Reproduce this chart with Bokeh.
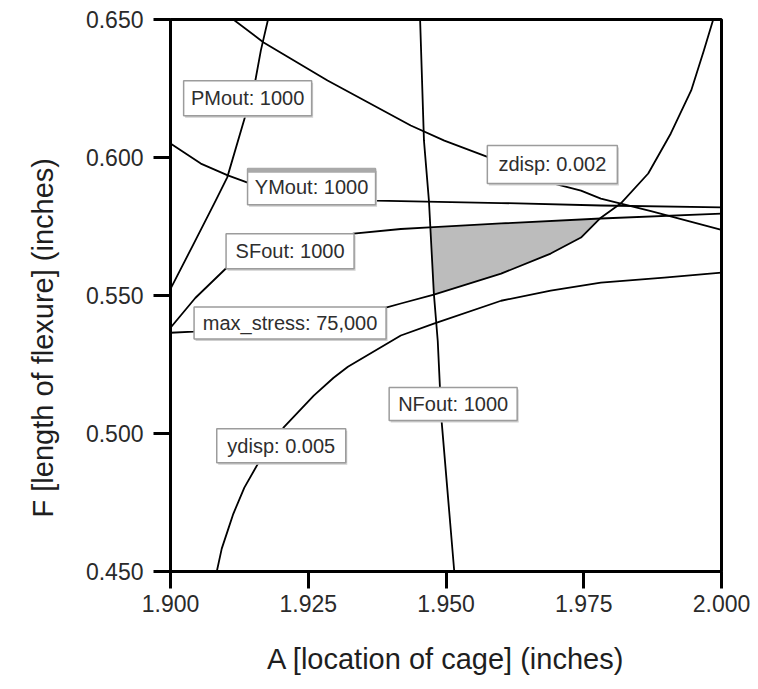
import numpy as np
from bokeh.plotting import figure
from bokeh.models import FixedTicker, Range1d, Title
from bokeh.core.properties import value
from bokeh.embed import file_html
from bokeh.resources import INLINE

# Constraint contours: F (length of flexure) versus A (location of cage), inches
pmout_A = [1.9000, 1.9042, 1.9082, 1.9103, 1.9136, 1.9154, 1.9164, 1.9177]
pmout_F = [0.5524, 0.5687, 0.5844, 0.5928, 0.6152, 0.6279, 0.6388, 0.6500]

zdisp_A = [1.9114, 1.9169, 1.9285, 1.9436, 1.9497, 1.9574, 1.9694, 1.9745, 1.9781, 1.9872, 2.0000]
zdisp_F = [0.6500, 0.6417, 0.6279, 0.6116, 0.6061, 0.6003, 0.5906, 0.5880, 0.5851, 0.5806, 0.5738]

ymout_A = [1.9000, 1.9055, 1.9104, 1.9140, 1.9372, 1.9418, 1.9600, 1.9781, 2.0000]
ymout_F = [0.6051, 0.5978, 0.5935, 0.5909, 0.5844, 0.5842, 0.5835, 0.5826, 0.5819]

sfout_A = [1.9000, 1.9045, 1.9100, 1.9332, 1.9418, 1.9478, 1.9600, 1.9781, 2.0000]
sfout_F = [0.5383, 0.5491, 0.5597, 0.5724, 0.5741, 0.5748, 0.5761, 0.5779, 0.5797]

stress_A = [1.9000, 1.9042, 1.9391, 1.9418, 1.9478, 1.9600, 1.9690, 1.9745, 1.9781,
            1.9817, 1.9867, 1.9908, 1.9945, 1.9968, 1.9985]
stress_F = [0.5365, 0.5369, 0.5456, 0.5471, 0.5503, 0.5579, 0.5652, 0.5710, 0.5782,
            0.5833, 0.5942, 0.6087, 0.6243, 0.6388, 0.6500]

nfout_A = [1.9453, 1.9460, 1.9469, 1.9478, 1.9485, 1.9489, 1.9492, 1.9515]
nfout_F = [0.6500, 0.6061, 0.5844, 0.5506, 0.5336, 0.5167, 0.5046, 0.4500]

ydisp_A = [1.9084, 1.9093, 1.9104, 1.9114, 1.9134, 1.9158, 1.9205, 1.9260, 1.9296,
           1.9322, 1.9418, 1.9478, 1.9600, 1.9690, 1.9781, 1.9896, 2.0000]
ydisp_F = [0.4500, 0.4583, 0.4649, 0.4709, 0.4804, 0.4888, 0.5021, 0.5137, 0.5202,
           0.5242, 0.5355, 0.5398, 0.5481, 0.5518, 0.5547, 0.5565, 0.5583]

x_ticks = [1.900, 1.925, 1.950, 1.975, 2.000]
x_tick_labels = ["1.900", "1.925", "1.950", "1.975", "2.000"]
y_ticks = [0.450, 0.500, 0.550, 0.600, 0.650]
y_tick_labels = ["0.450", "0.500", "0.550", "0.600", "0.650"]

label_texts = ["PMout: 1000", "YMout: 1000", "SFout: 1000", "max_stress: 75,000",
               "zdisp: 0.002", "NFout: 1000", "ydisp: 0.005"]

# Label box placement (data centres) and box sizes in pixels
label_x = [1.9140, 1.9256, 1.9217, 1.9217, 1.9693, 1.9513, 1.9201]
label_y = [0.6215, 0.5894, 0.5660, 0.5400, 0.5975, 0.5107, 0.4956]
label_w = [128, 128, 128, 192, 130, 128, 129]
label_h = [35, 36, 35, 32, 38, 33, 34]

X0, X1, Y0, Y1 = 1.9, 2.0, 0.45, 0.65
FRAME_W, FRAME_H = 551, 552
PX_X = FRAME_W / (X1 - X0)   # pixels per inch along A
PX_Y = FRAME_H / (Y1 - Y0)   # pixels per inch along F

FONT = "Liberation Sans"

p = figure(width=758, height=689, output_backend="svg", toolbar_location=None,
           x_range=Range1d(X0, X1), y_range=Range1d(Y0, Y1),
           min_border_left=170, min_border_right=37, min_border_top=19,
           min_border_bottom=118)
p.background_fill_color = "white"
p.border_fill_color = "white"
p.outline_line_color = "black"
p.outline_line_width = 3
p.xgrid.visible = False
p.ygrid.visible = False

for ax, ticks, labels, standoff in ((p.xaxis, x_ticks, x_tick_labels, 6),
                                    (p.yaxis, y_ticks, y_tick_labels, 10)):
    ax.ticker = FixedTicker(ticks=ticks)
    ax.major_label_overrides = {t: s for t, s in zip(ticks, labels)}
    ax.axis_line_width = 3
    ax.axis_line_color = "black"
    ax.major_tick_line_width = 3
    ax.major_tick_line_color = "black"
    ax.major_tick_out = 17
    ax.major_tick_in = 0
    ax.minor_tick_out = 0
    ax.minor_tick_in = 0
    ax.major_label_text_font = FONT
    ax.major_label_text_font_size = "23px"
    ax.major_label_text_color = "#2a2a2a"
    ax.major_label_standoff = standoff

# Horizontal axis title
p.xaxis.axis_label = "A [location of cage] (inches)"
p.xaxis.axis_label_text_font = FONT
p.xaxis.axis_label_text_font_size = "29px"
p.xaxis.axis_label_text_font_style = "normal"
p.xaxis.axis_label_text_color = "#1e1e1e"
p.xaxis.axis_label_standoff = 28

# Feasible region: right of NFout, below SFout, above max_stress
sfA, sfF = np.array(sfout_A), np.array(sfout_F)
msA, msF = np.array(stress_A), np.array(stress_F)
nfA, nfF = np.array(nfout_A), np.array(nfout_F)
order = np.argsort(nfF)

grid = np.linspace(1.94, 2.0, 3001)
gap = np.interp(grid, sfA, sfF) - np.interp(grid, msA, msF)
x_right = grid[np.where(gap <= 0)[0][0]]

def nf_x_at(level):
    return float(np.interp(level, nfF[order], nfA[order]))

x_tl = nf_x_at(np.interp(1.9475, sfA, sfF))
x_bl = nf_x_at(np.interp(1.9478, msA, msF))
top_x = np.linspace(x_tl, x_right, 60)
bot_x = np.linspace(x_right, x_bl, 60)
region_x = np.concatenate([top_x, bot_x])
region_y = np.concatenate([np.interp(top_x, sfA, sfF), np.interp(bot_x, msA, msF)])
p.patch(region_x, region_y, fill_color="#bcbcbc", line_color=None)

# Constraint curves
curves = [(pmout_A, pmout_F), (zdisp_A, zdisp_F), (ymout_A, ymout_F),
          (sfout_A, sfout_F), (stress_A, stress_F), (nfout_A, nfout_F),
          (ydisp_A, ydisp_F)]
for a, f in curves:
    p.line(a, f, line_color="black", line_width=1.8, line_join="round")

# Label boxes with a faint drop shadow
shadow_x = [x + 1.5 / PX_X for x in label_x]
shadow_y = [y - 2.0 / PX_Y for y in label_y]
p.rect(shadow_x, shadow_y, width=label_w, height=label_h,
       width_units="screen", height_units="screen",
       fill_color="#cfcfcf", line_color=None)
p.rect(label_x, label_y, width=label_w, height=label_h,
       width_units="screen", height_units="screen",
       fill_color="white", line_color="#9c9c9c", line_width=1.5)

# Grey band along the top edge of the YMout box
i_ym = 1
p.rect([label_x[i_ym]], [label_y[i_ym] + (label_h[i_ym] / 2 - 1.5) / PX_Y],
       width=label_w[i_ym], height=5, width_units="screen", height_units="screen",
       fill_color="#a9a9a9", line_color=None)

p.text(label_x, label_y, text=label_texts, text_align="center",
       text_baseline="middle", text_font=value(FONT), text_font_size="20px",
       text_color="#2e2e2e")

# Vertical axis title as a side-panel title, anchored at the start of the text
y_title = Title(text="F [length of flexure] (inches)", align="left", offset=54,
                text_font=FONT, text_font_size="29px", text_font_style="normal",
                text_color="#1e1e1e")
if "standoff" in Title.properties():
    y_title.standoff = 48
p.add_layout(y_title, "left")

open("out.html", "w").write(file_html(p, INLINE))
